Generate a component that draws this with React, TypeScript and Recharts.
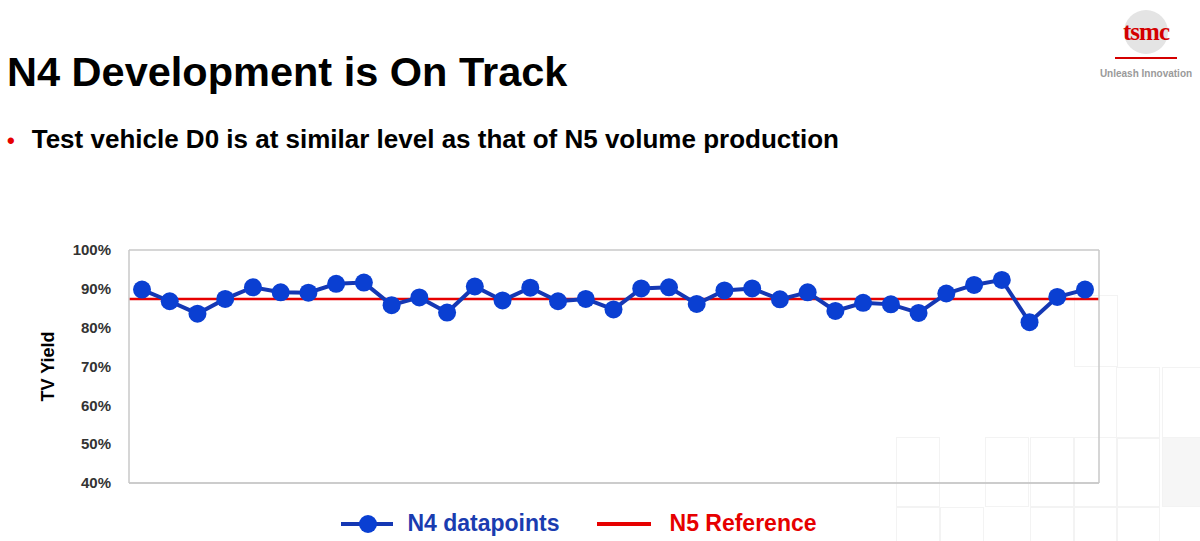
import React from "react";
import {
  LineChart,
  Line,
  XAxis,
  YAxis,
  CartesianGrid,
  ReferenceLine,
  Legend,
} from "recharts";

const samples: string[] = Array.from({ length: 35 }, (_, i) => `S${i + 1}`);
const n4Yield: number[] = [
  89.8, 86.8, 83.6, 87.4, 90.4, 89.1, 89.0, 91.3, 91.6, 85.8,
  87.8, 83.9, 90.6, 87.0, 90.3, 86.8, 87.4, 84.7, 90.1, 90.4,
  86.1, 89.6, 90.1, 87.3, 89.1, 84.3, 86.4, 86.0, 83.8, 88.8,
  91.0, 92.3, 81.4, 87.9, 89.8,
];
const n5Reference = 87.4;
const yTicks: number[] = [40, 50, 60, 70, 80, 90, 100];

const data = samples.map((s, i) => ({ sample: s, n4: n4Yield[i] }));

const FONT = "'Liberation Sans', Arial, Helvetica, sans-serif";
const BLUE_DOT = "#0a3fd2";
const BLUE_LINE = "#1538b4";
const RED = "#e60000";

const LegendContent = () => (
  <div
    style={{
      display: "flex",
      justifyContent: "center",
      alignItems: "center",
      fontFamily: FONT,
      fontWeight: 700,
      fontSize: 23,
      paddingRight: 42,
    }}
  >
    <svg width={52} height={20} style={{ marginRight: 14 }}>
      <line x1={0} y1={10} x2={52} y2={10} stroke={BLUE_LINE} strokeWidth={4} />
      <circle cx={27} cy={10} r={9} fill={BLUE_DOT} />
    </svg>
    <span style={{ color: "#1a3cb0" }}>N4 datapoints</span>
    <svg width={54} height={20} style={{ marginLeft: 37, marginRight: 19 }}>
      <line x1={0} y1={10} x2={54} y2={10} stroke={RED} strokeWidth={4} />
    </svg>
    <span style={{ color: RED }}>N5 Reference</span>
  </div>
);

const bgSquares: [number, number, number, number][] = [
  [1074, 295, 42, 70],
  [1116, 367, 42, 70],
  [1162, 367, 38, 70],
  [1030, 437, 42, 68],
  [1074, 437, 42, 68],
  [1116, 437, 42, 68],
  [1162, 437, 38, 68],
  [896, 437, 42, 68],
  [985, 437, 42, 68],
  [896, 507, 42, 34],
  [940, 507, 42, 34],
  [1030, 507, 42, 34],
  [1074, 507, 42, 34],
  [1116, 507, 42, 34],
];

export default function App() {
  return (
    <div
      style={{
        position: "absolute",
        left: 0,
        top: 0,
        width: 1200,
        height: 541,
        background: "#fff",
        overflow: "hidden",
        fontFamily: FONT,
      }}
    >
      {bgSquares.map(([x, y, w, h], i) => (
        <div
          key={i}
          style={{
            position: "absolute",
            left: x,
            top: y,
            width: w,
            height: h,
            border: "1px solid #f3f3f3",
            background: i === 6 ? "#f6f6f6" : "transparent",
          }}
        />
      ))}
      <div
        style={{
          position: "absolute",
          left: 7,
          top: 48,
          fontSize: 41.5,
          fontWeight: 700,
          color: "#000",
          whiteSpace: "nowrap",
        }}
      >
        N4 Development is On Track
      </div>
      <div
        style={{
          position: "absolute",
          left: 7,
          top: 124,
          fontSize: 26,
          fontWeight: 700,
          color: "#000",
          whiteSpace: "nowrap",
        }}
      >
        <span style={{ color: RED, fontSize: 22, marginRight: 17 }}>•</span>
        Test vehicle D0 is at similar level as that of N5 volume production
      </div>
      <div
        style={{
          position: "absolute",
          left: 1096,
          top: 10,
          width: 100,
          textAlign: "center",
        }}
      >
        <div
          style={{
            width: 44,
            height: 44,
            borderRadius: 22,
            margin: "0 auto",
            background: "#e4e4e4",
            position: "relative",
          }}
        >
          <div
            style={{
              position: "absolute",
              left: -16,
              top: 8,
              width: 76,
              textAlign: "center",
              fontFamily: "'Liberation Serif', 'DejaVu Serif', serif",
              fontWeight: 700,
              fontSize: 25,
              color: "#d40000",
              letterSpacing: -1,
            }}
          >
            tsmc
          </div>
        </div>
        <div
          style={{
            width: 62,
            height: 2,
            background: "#d40000",
            margin: "3px auto 0",
          }}
        />
        <div
          style={{
            fontSize: 10,
            fontWeight: 700,
            color: "#9a9a9a",
            marginTop: 9,
            whiteSpace: "nowrap",
          }}
        >
          Unleash Innovation
        </div>
      </div>
      <div style={{ position: "absolute", left: 0, top: 235 }}>
        <LineChart
          width={1200}
          height={306}
          data={data}
          margin={{ top: 15, right: 100, bottom: 23, left: 0 }}
        >
          <CartesianGrid vertical={false} stroke="#c8c8c8" strokeWidth={1.5} />
          <XAxis
            dataKey="sample"
            tick={false}
            tickLine={false}
            axisLine={{ stroke: "#c8c8c8", strokeWidth: 1.5 }}
            padding={{ left: 13, right: 14 }}
            height={8}
          />
          <YAxis
            yAxisId="left"
            domain={[40, 100]}
            ticks={yTicks}
            tickFormatter={(v: number) => `${v}%`}
            tick={{ fill: "#333", fontSize: 15, fontWeight: 700, fontFamily: FONT }}
            tickLine={false}
            axisLine={{ stroke: "#c8c8c8", strokeWidth: 1.5 }}
            width={129}
            tickMargin={12}
            label={{
              value: "TV Yield",
              angle: -90,
              position: "insideLeft",
              offset: 48,
              style: { fontSize: 18, fontWeight: 700, fill: "#000", fontFamily: FONT, textAnchor: "middle" },
            }}
          />
          <YAxis
            yAxisId="right"
            orientation="right"
            domain={[40, 100]}
            ticks={yTicks}
            tick={false}
            tickLine={false}
            axisLine={{ stroke: "#c8c8c8", strokeWidth: 1.5 }}
            width={1}
          />
          <ReferenceLine
            yAxisId="left"
            y={n5Reference}
            stroke={RED}
            strokeWidth={2.5}
          />
          <Line
            yAxisId="left"
            type="linear"
            dataKey="n4"
            name="N4 datapoints"
            stroke={BLUE_LINE}
            strokeWidth={4}
            dot={{ r: 9, fill: BLUE_DOT, stroke: BLUE_DOT, strokeWidth: 0 }}
            activeDot={false}
            isAnimationActive={false}
          />
          <Legend
            verticalAlign="bottom"
            content={() => <LegendContent />}
            wrapperStyle={{ bottom: 4, left: 0, width: 1200 }}
          />
        </LineChart>
      </div>
    </div>
  );
}
